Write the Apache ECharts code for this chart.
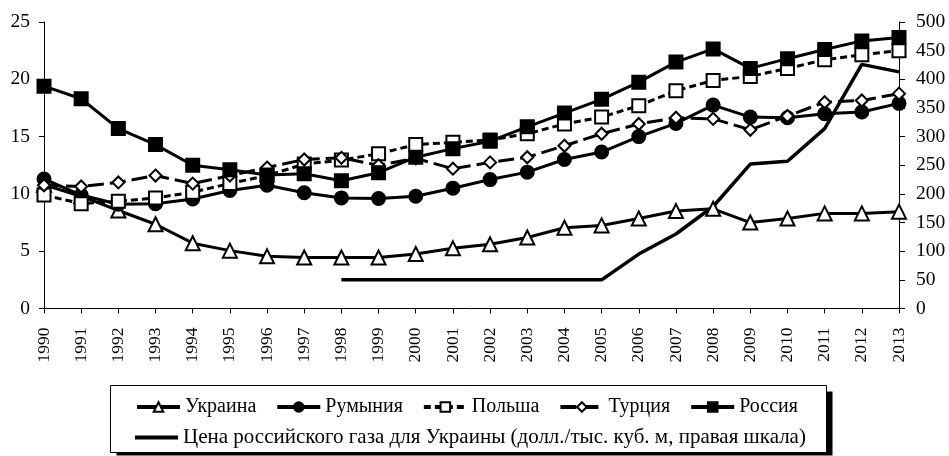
<!DOCTYPE html>
<html><head><meta charset="utf-8">
<script src="https://cdn.jsdelivr.net/npm/echarts@6/dist/echarts.min.js"></script>
<style>html,body{margin:0;padding:0;background:#fff}#c{width:949px;height:456px}</style>
</head><body><div id="c"></div>
<script>
const years = ['1990','1991','1992','1993','1994','1995','1996','1997','1998','1999','2000','2001','2002','2003','2004','2005','2006','2007','2008','2009','2010','2011','2012','2013'];
const ukraine = [10.8,9.8,8.55,7.35,5.7,5.05,4.55,4.45,4.45,4.45,4.75,5.25,5.6,6.2,7.05,7.25,7.85,8.5,8.7,7.5,7.85,8.3,8.3,8.45];
const romania = [11.3,9.9,9.1,9.15,9.55,10.3,10.75,10.1,9.65,9.6,9.8,10.5,11.25,11.9,13.0,13.65,15.0,16.15,17.75,16.7,16.65,17.0,17.15,17.9];
const poland = [9.9,9.15,9.35,9.65,10.15,10.9,11.6,12.6,12.95,13.5,14.3,14.5,14.7,15.25,16.1,16.7,17.7,19.0,19.9,20.25,20.95,21.7,22.15,22.5];
const turkey = [10.75,10.65,11.0,11.6,10.9,11.6,12.3,13.0,13.15,12.5,13.1,12.2,12.75,13.2,14.2,15.25,16.1,16.65,16.55,15.6,16.8,18.0,18.15,18.75];
const russia = [19.4,18.3,15.7,14.3,12.5,12.1,11.65,11.75,11.15,11.85,13.2,13.95,14.6,15.85,17.05,18.25,19.75,21.5,22.65,20.95,21.8,22.6,23.35,23.65];
const gasPrice = [null,null,null,null,null,null,null,null,50,50,50,50,50,50,50,50,95,130,178,252,257,314,426,413];
const names = ['Украина','Румыния','Польша','Турция','Россия','Цена российского газа для Украины (долл./тыс. куб. м, правая шкала)'];

const F = '"Liberation Serif", serif';
const chart = echarts.init(document.getElementById('c'));
function ser(name, data, symbol, size, fill, dash) {
  return {
    name, type: 'line', data, symbol, symbolSize: size, showSymbol: true,
    lineStyle: {color: '#000', width: 3, type: dash || 'solid'},
    itemStyle: {color: fill, borderColor: '#000', borderWidth: 2},
    emphasis: {disabled: true}, animation: false
  };
}
chart.setOption({
  animation: false,
  grid: {left: 44, right: 50, top: 22, bottom: 147.5},
  xAxis: {
    type: 'category', data: years, boundaryGap: false,
    axisLine: {lineStyle: {color: '#000', width: 1}},
    axisTick: {show: true, length: 5, lineStyle: {color: '#000'}, alignWithLabel: true},
    axisLabel: {rotate: 90, color: '#000', fontFamily: F, fontSize: 17.5, margin: 19, interval: 0}
  },
  yAxis: [
    {type: 'value', min: 0, max: 25, interval: 5, splitLine: {show: false},
     axisLine: {show: true, lineStyle: {color: '#000'}},
     axisTick: {show: true, length: 5, lineStyle: {color: '#000'}},
     axisLabel: {color: '#000', fontFamily: F, fontSize: 19.5, margin: 14}},
    {type: 'value', min: 0, max: 500, interval: 50, splitLine: {show: false}, position: 'right',
     axisLine: {show: true, lineStyle: {color: '#000'}},
     axisTick: {show: true, length: 6, lineStyle: {color: '#000'}},
     axisLabel: {color: '#000', fontFamily: F, fontSize: 19.5, margin: 17}}
  ],
  legend: [
    {data: names.slice(0,5), left: 130, top: 392, itemWidth: 43, itemHeight: 12, itemGap: 19,
     lineStyle: {width: 4},
     textStyle: {fontFamily: F, fontSize: 20, color: '#000'}, selectedMode: false},
    {data: [{name: names[5], icon: 'rect'}], left: 130, top: 422, itemWidth: 43, itemHeight: 4,
     itemStyle: {color: '#000', borderWidth: 0},
     textStyle: {fontFamily: F, fontSize: 21, color: '#000'}, selectedMode: false}
  ],
  graphic: [
    {type: 'rect', shape: {x: 116.5, y: 391.5, width: 716, height: 64}, style: {fill: '#000'}, z: -1},
    {type: 'rect', shape: {x: 110.5, y: 385.5, width: 716, height: 67}, style: {fill: '#fff', stroke: '#000', lineWidth: 1}, z: 0}
  ],
  series: [
    ser(names[0], ukraine, 'triangle', 14, '#fff'),
    ser(names[1], romania, 'circle', 13, '#000'),
    ser(names[2], poland, 'rect', 13, '#fff', [7, 4]),
    ser(names[3], turkey, 'diamond', 12, '#fff', [16, 6]),
    ser(names[4], russia, 'rect', 13, '#000'),
    {name: names[5], type: 'line', yAxisIndex: 1, data: gasPrice, symbol: 'none', showSymbol: false,
     lineStyle: {color: '#000', width: 3.5}, itemStyle: {color: '#000'}, emphasis: {disabled: true}}
  ]
});
</script></body></html>
